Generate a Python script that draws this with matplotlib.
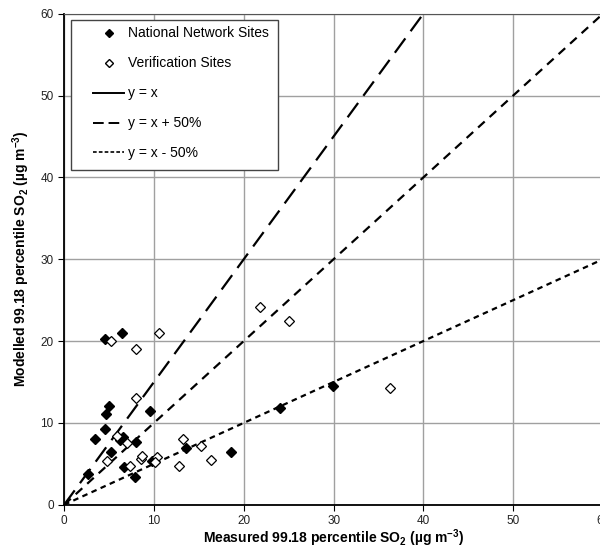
import numpy as np
import matplotlib.pyplot as plt
from matplotlib.lines import Line2D
from matplotlib.patches import Rectangle

plt.rcParams['font.family'] = ['Liberation Sans', 'DejaVu Sans']
plt.rcParams['mathtext.fontset'] = 'custom'
plt.rcParams['mathtext.bf'] = 'Liberation Sans:bold'

# data
national_x = [4.55, 6.4, 5.0, 4.6, 4.5, 3.4, 9.6, 6.5, 6.2, 8.0, 5.2, 6.7, 7.9,
              2.7, 9.8, 13.6, 24.0, 29.9, 18.6]
national_y = [20.2, 21.0, 12.1, 11.1, 9.2, 8.0, 11.5, 8.3, 7.9, 7.7, 6.5, 4.6, 3.4,
              3.8, 5.3, 6.9, 11.8, 14.5, 6.5]

verif_x = [5.2, 10.6, 8.0, 8.0, 5.9, 7.0, 4.8, 7.3, 8.5, 8.7, 10.3, 10.1, 13.2,
           12.8, 15.2, 16.4, 21.8, 25.0, 36.3]
verif_y = [20.0, 21.0, 19.0, 13.0, 8.45, 7.5, 5.4, 4.75, 5.6, 5.9, 5.8, 5.2, 8.0,
           4.7, 7.2, 5.5, 24.1, 22.5, 14.3]

line_x = [0, 60]
ticks = [0, 10, 20, 30, 40, 50, 60]

fig = plt.figure(figsize=(6.0, 5.48), dpi=100)
# the axes run past the right edge, as in the original
ax = fig.add_axes([0.107, 0.079, 0.898, 0.896])

ax.set_xlim(0, 60)
ax.set_ylim(0, 60)
ax.set_xticks(ticks)
ax.set_yticks(ticks)
ax.grid(True, color='#a0a0a0', linewidth=1.0)
ax.set_axisbelow(True)

for side in ['top', 'right']:
    ax.spines[side].set_color('#555555')
ax.spines['left'].set_linewidth(1.3)
ax.spines['bottom'].set_linewidth(1.3)
ax.tick_params(axis='both', labelsize=8.5, length=4, direction='out', width=0.8,
               colors='black', labelcolor='#222222')

# reference lines
ax.plot(line_x, [v * 1.5 for v in line_x], color='black', linewidth=1.6,
        dashes=(8, 4), zorder=2)
ax.plot(line_x, line_x, color='black', linewidth=1.6, dashes=(4, 3), zorder=2)
ax.plot(line_x, [v * 0.5 for v in line_x], color='black', linewidth=1.6,
        dashes=(2.5, 2), zorder=2)

ax.plot(national_x, national_y, 'D', color='black', markersize=5.5, zorder=3)
ax.plot(verif_x, verif_y, 'D', markerfacecolor='white', markeredgecolor='black',
        markeredgewidth=0.9, markersize=5.5, zorder=3)

ax.set_xlabel(r'Measured 99.18 percentile SO$_\mathbf{2}$ (µg m$^\mathbf{-3}$)',
              fontsize=10, fontweight='bold', labelpad=0)
ax.set_ylabel(r'Modelled 99.18 percentile SO$_\mathbf{2}$ (µg m$^\mathbf{-3}$)',
              fontsize=10, fontweight='bold', labelpad=6)

# legend box drawn by hand so its padding matches the original
ax.add_patch(Rectangle((0.013, 0.681), 0.384, 0.307, transform=ax.transAxes,
                       facecolor='white', edgecolor='#444444', linewidth=1.0,
                       zorder=4))

handles = [
    Line2D([], [], linestyle='none', marker='D', color='black', markersize=4.5),
    Line2D([], [], linestyle='none', marker='D', markerfacecolor='white',
           markeredgecolor='black', markersize=4.5),
    Line2D([], [], color='black', linewidth=1.4),
    Line2D([], [], color='black', linewidth=1.4, dashes=(5.5, 2.5)),
    Line2D([], [], color='black', linewidth=1.2, dashes=(2.2, 1.3)),
]
labels = ['National Network Sites', 'Verification Sites', 'y = x',
          'y = x + 50%', 'y = x - 50%']
leg = ax.legend(handles, labels, loc='upper left', bbox_to_anchor=(0.054, 0.974),
                fontsize=10, frameon=False, labelspacing=1.15,
                handlelength=2.2, handletextpad=0.3, borderpad=0.0,
                borderaxespad=0.0)
leg.set_zorder(5)

fig.savefig('out.png', dpi=100)
